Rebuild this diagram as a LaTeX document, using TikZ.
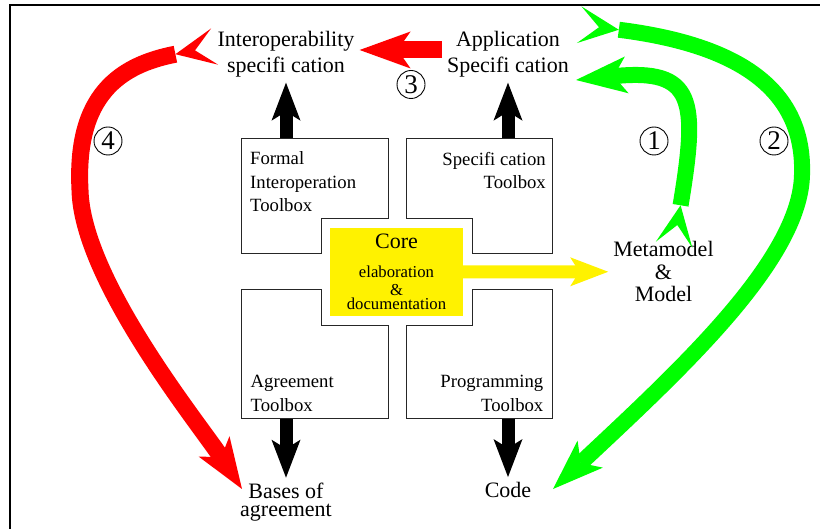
\documentclass[tikz,border=0pt]{standalone}
\usepackage{fontspec}
\setmainfont{Liberation Serif}
\usetikzlibrary{arrows.meta}

\tikzset{
  bighead/.tip={Stealth[length=51pt,width=37pt,inset=13pt,line width=0pt]},
  forktail/.tip={Stealth[reversed,length=40pt,width=37pt,inset=20pt,line width=0pt,sep=-18pt]},
  smallhead/.tip={Stealth[length=38pt,width=29pt,inset=9pt,line width=0pt]}
}

\begin{document}
\begin{tikzpicture}[x=1pt,y=-1pt,
    toolbox/.style={draw=black!85,line width=1pt,fill=white},
    title/.style={font=\fontsize{22}{26}\selectfont,align=center,inner sep=5pt},
    boxtext/.style={font=\fontsize{18.7}{23.5}\selectfont,inner sep=0pt},
    num/.style={circle,draw,line width=0.9pt,minimum size=28pt,inner sep=0pt,font=\fontsize{27}{27}\selectfont},
    fatblack/.style={line width=13pt,-smallhead},
    fatyellow/.style={yellow,line width=13pt,-smallhead},
    fatred/.style={red,line width=17pt},
    fatgreen/.style={green,line width=16pt}]
    \clip (0,0) rectangle (820,529);
    \draw[line width=2pt] (10,5) rectangle (840,550);

    \node[title] (interop) at (286,54.5) {Interoperability\\specifi cation};
    \node[title] (app) at (508,54.5) {Application\\Specifi cation};
    \node[title] (meta) at (663.5,271.7) {Metamodel\\[-3.5pt]\&\\[-3.5pt]Model};
    \node[title] (bases) at (286,502) {Bases of\\[-8pt]agreement};
    \node[title] (code) at (508,490) {Code};

    \coordinate (fit top) at (286,138.5);
    \coordinate (spec top) at (508,138.5);
    \coordinate (agree bottom) at (286,419);
    \coordinate (prog bottom) at (508,419);
    \draw[fatblack] (fit top) -- (interop.south);
    \draw[fatblack] (spec top) -- (app.south);
    \draw[fatblack] (agree bottom) -- (bases.north);
    \draw[fatblack] (prog bottom) -- (code.north);

    \draw[toolbox] (241,138.5) -- (388,138.5) -- (388,219) -- (321,219) -- (321,254) -- (241,254) -- cycle;
    \draw[toolbox] (406,138.5) -- (552.5,138.5) -- (552.5,254) -- (472.5,254) -- (472.5,219) -- (406,219) -- cycle;
    \draw[toolbox] (241,290) -- (321,290) -- (321,326) -- (388,326) -- (388,419) -- (241,419) -- cycle;
    \draw[toolbox] (406,326) -- (472.5,326) -- (472.5,290) -- (552.5,290) -- (552.5,419) -- (406,419) -- cycle;

    \node[boxtext,anchor=west,align=left] (fit text) at (250,182) {Formal\\Interoperation\\Toolbox};
    \node[boxtext,anchor=east,align=right] (spec text) at (546,170.5) {Specifi cation\\Toolbox};
    \node[boxtext,anchor=west,align=left] (agree text) at (250.5,393.5) {Agreement\\Toolbox};
    \node[boxtext,anchor=east,align=right] (prog text) at (543.5,393.5) {Programming\\Toolbox};

    \node[fill=yellow,minimum width=133pt,minimum height=88pt,inner sep=0pt,align=center,
      font=\fontsize{16.7}{18}\selectfont] (core) at (396.5,272)
      {{\fontsize{22}{22}\selectfont Core}\\[11pt]elaboration\\\&\\[-4pt]documentation};
    \draw[fatyellow] (core) -- (meta);

    % loops round the toolboxes
    \coordinate (g1 tail) at (677,227);
    \coordinate (g1 head) at (576,80);
    \coordinate (g2 tail) at (597,27);
    \coordinate (g2 head) at (553,489);
    \coordinate (r4 tail) at (197,50);
    \coordinate (r4 head) at (242,489);
    \draw[fatgreen,forktail-bighead] (g1 tail) .. controls (698,100) and (695,68) .. (g1 head);
    \draw[fatgreen,forktail-bighead] (g2 tail) .. controls (740,45) and (805,90) .. (802,175)
      .. controls (800,260) and (680,370) .. (g2 head);
    \draw[fatred,forktail-bighead] (r4 tail) .. controls (120,65) and (75,95) .. (80,190)
      .. controls (82,280) and (200,425) .. (r4 head);
    \draw[fatred,-bighead] ([yshift=4.5pt]app.west) -- ([yshift=4.5pt]interop.east);

    \node[num] (n1) at (654,141) {1};
    \node[num] (n2) at (774,141) {2};
    \node[num] (n3) at (411,84.5) {3};
    \node[num] (n4) at (108,141) {4};
\end{tikzpicture}
\end{document}
